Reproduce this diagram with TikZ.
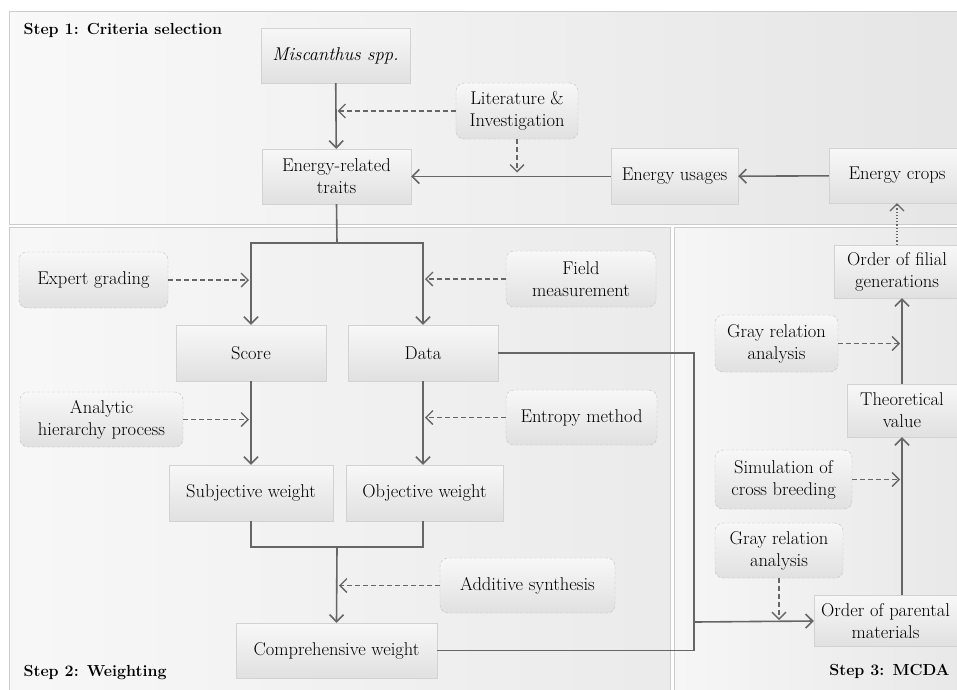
\documentclass[tikz,border=0pt]{standalone}
\usetikzlibrary{arrows.meta}

\begin{document}
\begin{tikzpicture}[x=1pt,y=-1pt,>={Straight Barb[length=7pt,width=14pt]}]
\useasboundingbox (0,0) rectangle (957,689);
\tikzstyle{every node}=[font=\fontsize{18.5}{22}\selectfont, align=center, text=black];
\tikzstyle{steplabel}=[font=\fontsize{16}{19}\selectfont\bfseries];
\tikzstyle{solidbox}=[draw=gray!35, top color=gray!6, bottom color=gray!24, minimum height=55pt, inner sep=2pt];
\tikzstyle{dashbox}=[solidbox, draw=gray!50, rounded corners=8pt, dash pattern=on 3pt off 2pt];
\tikzstyle{flow}=[draw=black!60, line width=1.6pt];
\tikzstyle{hint}=[draw=black!60, line width=1.3pt, dash pattern=on 5pt off 3pt, shorten >=2pt];
\draw[draw=gray!40, left color=gray!5, right color=gray!20] (9,11) rectangle (965,224);
\draw[draw=gray!40, left color=gray!6, right color=gray!16] (9,227) rectangle (670,695);
\draw[draw=gray!40, left color=gray!7, right color=gray!18] (674,227) rectangle (965,695);
\node[steplabel, anchor=west] (title1) at (20,30) {Step 1: Criteria selection};
\node[steplabel, anchor=west] (title2) at (20,673) {Step 2: Weighting};
\node[steplabel, anchor=east] (title3) at (953,671) {Step 3: MCDA};
\node[solidbox, minimum width=149pt] (misc) at (335.5,55.5) {\textit{Miscanthus spp.}};
\node[solidbox, minimum width=149pt] (traits) at (336.5,176.5) {Energy-related\\traits};
\node[dashbox, minimum width=122pt, minimum height=56pt] (lit) at (517,111) {Literature \&\\Investigation};
\node[solidbox, minimum width=127pt, minimum height=56pt] (usage) at (674.5,176.5) {Energy usages};
\node[solidbox, minimum width=136pt] (crops) at (897,175.5) {Energy crops};
\node[dashbox, minimum width=149pt, minimum height=56pt] (expert) at (93.5,280) {Expert grading};
\node[dashbox, minimum width=150pt, minimum height=56pt] (field) at (581,279) {Field\\measurement};
\node[solidbox, minimum width=150pt, minimum height=56pt] (score) at (251,353) {Score};
\node[solidbox, minimum width=150pt, minimum height=56pt] (data) at (423,353) {Data};
\node[dashbox, minimum width=163pt] (ahp) at (101.5,419.5) {Analytic\\hierarchy process};
\node[dashbox, minimum width=151pt] (entropy) at (581.5,417.5) {Entropy method};
\node[solidbox, minimum width=164pt, minimum height=56pt] (subj) at (251,493) {Subjective weight};
\node[solidbox, minimum width=157pt, minimum height=56pt] (obj) at (424.5,493) {Objective weight};
\node[dashbox, minimum width=175pt] (additive) at (527.5,585.5) {Additive synthesis};
\node[solidbox, minimum width=201pt] (comp) at (336.5,650.5) {Comprehensive weight};
\node[solidbox, minimum width=126pt, minimum height=53pt] (filial) at (897,271.5) {Order of filial\\generations};
\node[dashbox, minimum width=123pt, minimum height=57pt] (gray1) at (776.5,343.5) {Gray relation\\analysis};
\node[solidbox, minimum width=110pt, minimum height=53pt] (theo) at (902,410.5) {Theoretical\\value};
\node[dashbox, minimum width=137pt, minimum height=59pt] (sim) at (783.5,479.5) {Simulation of\\cross breeding};
\node[dashbox, minimum width=128pt] (gray2) at (779,550.5) {Gray relation\\analysis};
\node[solidbox, minimum width=143pt, minimum height=51pt] (parent) at (885.5,621) {Order of parental\\materials};
\coordinate (split) at (337,243);
\coordinate (merge) at (337,547);
\coordinate (bend) at (694,622);
\draw[flow,->] (misc) -- (traits);
\draw[hint,->] (lit.west) -- (misc.south |- lit.west);
\draw[flow,->] (usage) -- (traits);
\draw[hint,->, shorten >=4pt] (lit.south) -- (lit.south |- traits.east);
\draw[flow,->] (crops) -- (usage);
\draw[draw=black!60, line width=1.2pt, dotted, ->] (filial.north) -- (crops.south);
\draw[flow] (traits.south) -- (split);
\draw[flow,->] (split) -| (score.north);
\draw[flow,->] (split) -| (data.north);
\draw[hint,->] (expert.east) -- (score.north |- expert.east);
\draw[hint,->] (field.west) -- (data.north |- field.west);
\draw[flow,->] (score.south) -- (score.south |- subj.north);
\draw[flow,->] (data.south) -- (data.south |- obj.north);
\draw[hint,->] (ahp.east) -- (score.south |- ahp.east);
\draw[hint,->] (entropy.west) -- (data.south |- entropy.west);
\draw[flow] (subj.south) |- (merge) -| (data.south |- obj.south);
\draw[flow,->] (merge) -- (comp.north);
\draw[hint,->] (additive.west) -- (merge |- additive.west);
\draw[flow] (data.east) -| (bend);
\draw[flow] (comp.east) -| (bend);
\draw[flow,->] (bend) -- (parent.west);
\draw[hint,->] (gray2.south) -- (gray2.south |- bend);
\draw[flow,->] (theo.south |- parent.north) -- (theo.south);
\draw[flow,->] (theo.north) -- (theo.north |- filial.south);
\draw[hint,->] (sim.east) -- (theo.south |- sim.east);
\draw[hint,->] (gray1.east) -- (theo.north |- gray1.east);
\end{tikzpicture}
\end{document}
